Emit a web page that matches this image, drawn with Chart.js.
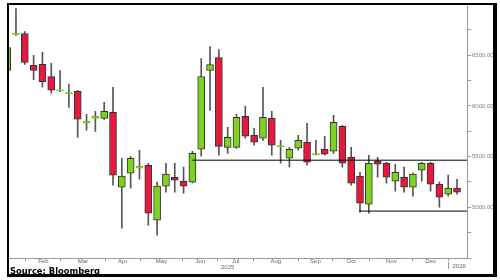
<!DOCTYPE html>
<html><head><meta charset="utf-8">
<script src="https://cdn.jsdelivr.net/npm/chart.js@4.4.1/dist/chart.umd.min.js"></script>
<style>
html,body{margin:0;padding:0;background:#fff;}
#wrap{position:relative;width:500px;height:280px;overflow:hidden;}
canvas{position:absolute;left:0;top:0;}
#src{position:absolute;left:10px;top:266px;font:bold 8.4px "DejaVu Sans",Verdana,sans-serif;color:#000;white-space:nowrap;}
#frame{position:absolute;left:7px;top:3px;width:490px;height:274px;box-sizing:border-box;border-left:2px solid #000;border-top:2px solid #000;border-right:4px solid #000;border-bottom:3px solid #000;pointer-events:none;}
</style></head><body>
<div id="wrap"><canvas id="c" width="500" height="280"></canvas><div id="src">Source: Bloomberg</div><div id="frame"></div></div>
<script>
// Weekly candles (week starting), 2025
const weeks = ['2025-01-20','2025-01-27','2025-02-03','2025-02-10','2025-02-17','2025-02-24','2025-03-03','2025-03-10','2025-03-17','2025-03-24','2025-03-31','2025-04-07','2025-04-14','2025-04-21','2025-04-28','2025-05-05','2025-05-12','2025-05-19','2025-05-26','2025-06-02','2025-06-09','2025-06-16','2025-06-23','2025-06-30','2025-07-07','2025-07-14','2025-07-21','2025-07-28','2025-08-04','2025-08-11','2025-08-18','2025-08-25','2025-09-01','2025-09-08','2025-09-15','2025-09-22','2025-09-29','2025-10-06','2025-10-13','2025-10-20','2025-10-27','2025-11-03','2025-11-10','2025-11-17','2025-11-24','2025-12-01','2025-12-08','2025-12-15','2025-12-22','2025-12-29','2026-01-05','2026-01-12'];
const opens  = [6350,6705,6715,6400,6410,6290,6148,6120,6145,5830,5878,5878,5937,5199,5337,5386,5415,4874,5209,5297,5258,5248,5573,6350,6478,5592,5592,5898,5711,5681,5878,5598,5484,5583,5642,5520,5573,5553,5799,5494,5307,5031,5455,5435,5258,5297,5199,5366,5435,5228,5130,5189];
const highs  = [6600,6960,6735,6500,6530,6420,6350,6215,6155,5917,5947,6035,6183,5484,5504,5563,5435,5248,5435,5435,5396,5553,6468,6587,6557,5789,5917,5996,5779,6183,5947,5661,5592,5711,5829,5661,5701,5907,5809,5592,5346,5514,5494,5445,5425,5396,5337,5445,5445,5248,5317,5277];
const lows   = [6330,6695,6410,6260,6185,6125,6140,5985,5690,5760,5750,5868,5218,4795,5189,5277,4825,4726,5150,5150,5140,5240,5504,5957,5514,5533,5580,5681,5612,5661,5514,5435,5396,5563,5415,5514,5514,5533,5396,5218,4953,4943,5297,5238,5159,5150,5110,5258,5159,5002,5110,5130];
const closes = [6577,6720,6430,6350,6240,6155,6160,6132,5870,5848,5898,5947,5317,5307,5484,5405,4943,5209,5327,5268,5209,5533,6291,6409,5602,5691,5888,5701,5642,5888,5612,5610,5573,5661,5445,5530,5524,5839,5435,5238,5041,5435,5425,5297,5346,5199,5327,5435,5228,5100,5189,5150];
// Horizontal levels
const levels = [5465, 4963];
const levelStarts = [20, 38.9];
// Axis ticks / labels
const monthTicks = [1.1, 5.1, 10.1, 14.1, 18.9, 22.9, 26.9, 32, 35.9, 40.1, 45, 49];
const monthLabels = ['Feb','Mar','Apr','May','Jun','Jul','Aug','Sep','Oct','Nov','Dec'];
const yearLabels = ['2025','2026'];
const yTickLabels = ['5000.00','5500.00','6000.00','6500.00'];

const X_MIN = -0.79, X_MAX = 51.13;
const GREEN = '#7ed31e', RED = '#e6183e';
const isUp = i => closes[i] >= opens[i];

const wickData = weeks.map((w,i)=>({x:i-1, y:[lows[i], highs[i]]}));
const bodyData = weeks.map((w,i)=>({x:i-1, y:[opens[i], closes[i]]}));

const axisLabels = {
  id:'axisLabels',
  afterDraw(chart){
    const xs = chart.scales.x, ctx = chart.ctx;
    ctx.save();
    ctx.font = '6px "Liberation Sans", Arial, sans-serif';
    ctx.fillStyle = '#666';
    ctx.textAlign = 'center'; ctx.textBaseline = 'middle';
    monthLabels.forEach((m,i)=>{
      const v = (monthTicks[i] + monthTicks[i+1]) / 2;
      ctx.fillText(m, xs.getPixelForValue(v), 261.5);
    });
    ctx.fillText(yearLabels[0], xs.getPixelForValue(24), 267);
    const p = Math.round(xs.getPixelForValue(monthTicks[monthTicks.length-1])) + 0.5;
    ctx.strokeStyle = '#999'; ctx.lineWidth = 1;
    ctx.beginPath(); ctx.moveTo(p, 262); ctx.lineTo(p, 269); ctx.stroke();
    ctx.textAlign = 'left';
    ctx.fillText(yearLabels[1], p + 4, 266);
    ctx.restore();
  }
};

new Chart(document.getElementById('c'), {
  type: 'bar',
  data: {
    labels: weeks,
    datasets: [
      { type:'bar', data: wickData, barThickness:1, backgroundColor:'#555', borderWidth:0, grouped:false, order:3, clip:0 },
      { type:'bar', data: bodyData, barThickness:7, grouped:false, order:2, clip:0,
        backgroundColor: c => isUp(c.dataIndex) ? GREEN : RED,
        borderColor: c => Math.abs(closes[c.dataIndex]-opens[c.dataIndex]) < 25 ? (isUp(c.dataIndex) ? '#6ab814' : RED) : '#333',
        borderWidth: 1, borderSkipped: false },
      { type:'line', data: [{x:levelStarts[0], y:levels[0]},{x:X_MAX, y:levels[0]}], borderColor:'#000', borderWidth:1, pointRadius:0, order:1, clip:0 },
      { type:'line', data: [{x:levelStarts[1], y:levels[1]},{x:X_MAX, y:levels[1]}], borderColor:'#000', borderWidth:1, pointRadius:0, order:1, clip:0 }
    ]
  },
  options: {
    responsive:false, animation:false,
    layout:{ padding:{ left:9, top:4, right:0, bottom:0 } },
    plugins:{ legend:{display:false}, tooltip:{enabled:false} },
    scales:{
      x:{ type:'linear', min:X_MIN, max:X_MAX, offset:false,
          afterBuildTicks: s => { s.ticks = monthTicks.map(v=>({value:v})); },
          ticks:{ callback: () => '', font:{size:6} },
          grid:{ drawOnChartArea:false, tickLength:3, color:'#999', offset:false },
          border:{ color:'#999' },
          afterFit: s => { s.height = 22; } },
      y:{ position:'right', min:4500, max:7000,
          afterBuildTicks: s => { const t=[]; for (let v=4500; v<=7000; v+=250) t.push({value:v}); s.ticks = t; },
          ticks:{ autoSkip:false, padding:1, color:'#808080', font:{size:6, family:'"Liberation Sans", Arial, sans-serif'},
                  callback: v => { const k = (v - 5000) / 500; return (Number.isInteger(k) && k >= 0 && k < yTickLabels.length) ? yTickLabels[k] : ''; } },
          grid:{ drawOnChartArea:false, tickLength:4, color:'#999' },
          border:{ color:'#999' },
          afterFit: s => { s.width = 33; } }
    }
  },
  plugins:[axisLabels]
});
</script>
</body></html>
